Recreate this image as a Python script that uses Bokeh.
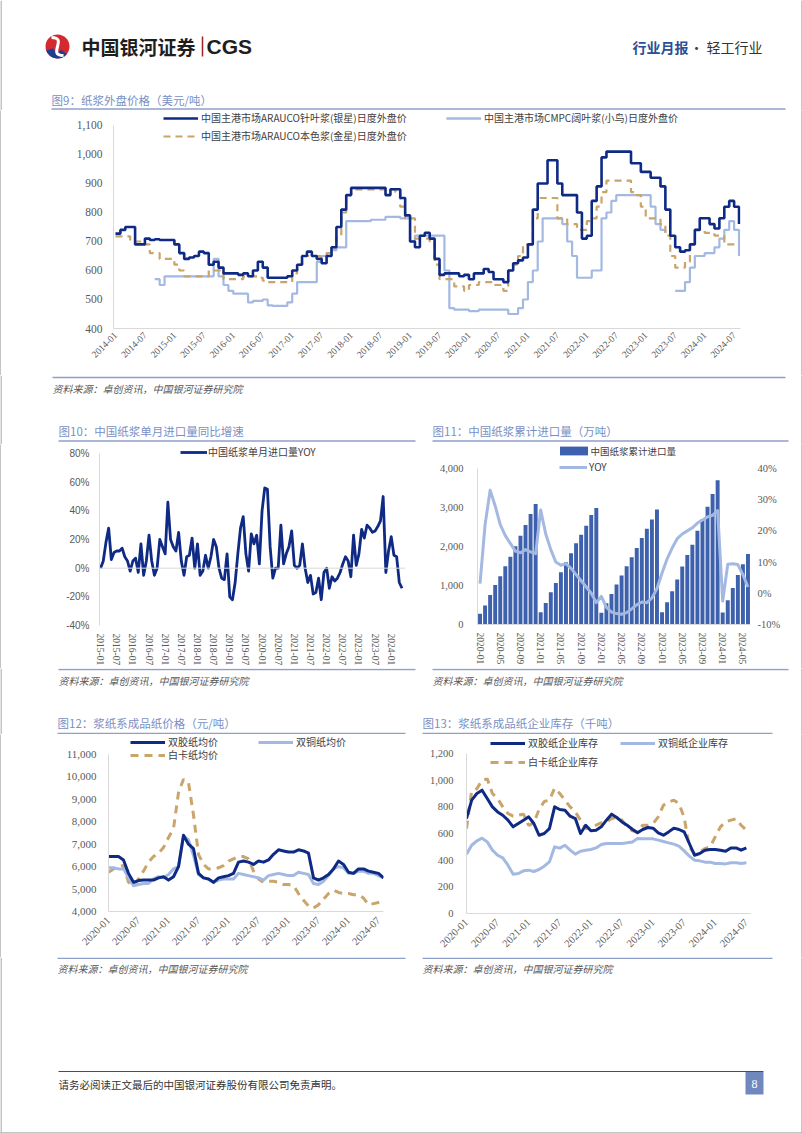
import math
from bokeh.plotting import figure
from bokeh.layouts import column, row
from bokeh.models import (Range1d, FixedTicker, NumeralTickFormatter, LinearAxis,
                          Legend, LegendItem, Span)
from bokeh.core.properties import value
from bokeh.embed import file_html
from bokeh.resources import INLINE

nan = float("nan")

# ---------------- data ----------------
# Fig 9: monthly, 2014-01 .. 2024-08 (USD/t)
c9_needle = [727, 740, 750, 750, 690, 690, 710, 705, 708, 705, 705, 705,
             690, 660, 640, 645, 650, 665, 660, 620, 630, 610, 590, 590,
             590, 585, 590, 580, 600, 630, 610, 575, 575, 575, 575, 580,
             600, 620, 650, 665, 650, 640, 625, 650, 680, 750, 810, 860,
             885, 885, 885, 885, 885, 885, 885, 860, 880, 880, 850, 790,
             700, 680, 720, 730, 710, 640, 585, 590, 590, 590, 580, 585,
             570, 590, 590, 605, 595, 570, 570, 560, 600, 625, 635, 645,
             690, 810, 900, 900, 980, 980, 900, 860, 860, 860, 800, 710,
             720, 840, 890, 990, 1010, 1010, 1010, 1010, 1010, 970, 970, 940,
             940, 920, 920, 890, 810, 720, 680, 665, 670, 690, 740, 780,
             780, 760, 745, 780, 820, 840, 820, 760]
c9_hardwood = [nan, nan, nan, nan, nan, nan, nan, nan, 570, 550, 580, 580,
               580, 580, 580, 580, 580, 580, 580, 580, 640, 580, 550, 530,
               520, 520, 520, 490, 495, 495, 500, 480, 478, 478, 478, 490,
               520, 560, 560, 560, 560, 630, 650, 650, 670, 680, 680, 770,
               770, 770, 770, 770, 775, 775, 775, 785, 785, 785, 780, 780,
               700, 720, 720, 720, 720, 720, 720, 600, 470, 465, 465, 465,
               460, 460, 465, 465, 465, 465, 465, 465, 450, 450, 470, 500,
               560, 600, 700, 780, 780, 780, 780, 760, 700, 650, 575, 575,
               575, 600, 600, 780, 800, 840, 860, 860, 860, 860, 860, 860,
               860, 820, 760, 740, 730, nan, 530, 530, 560, 610, 650, 650,
               660, 660, 680, 710, 740, 770, 740, 650]
c9_unbleached = [718, 718, 718, 700, 700, 700, 690, 660, 660, 640, 640, 640,
                 620, 600, 580, 580, 580, 580, 580, 600, 600, 600, 570, 570,
                 570, 570, 580, 580, 580, 575, 565, 560, 560, 560, 560, 560,
                 590, 620, 650, 650, 650, 650, 650, 660, 680, 720, 800, 860,
                 880, 880, 880, 880, 880, 880, 880, 880, 880, 870, 820, 780,
                 780, 710, 710, 710, 700, 620, 570, 570, 570, 545, 545, 530,
                 550, 550, 560, 560, 560, 550, 550, 530, 600, 620, 650, 690,
                 690, 780, 850, 850, 850, 850, 780, 780, 760, 760, 740, 740,
                 770, 780, 820, 870, 910, 910, 910, 910, 910, 870, 860, 820,
                 780, 780, 780, 760, 720, 650, 610, 610, 630, 690, 740, 740,
                 730, 730, 720, 720, 690, 690, 690, 690]
c9_tick_labels = ["2014-01", "2014-07", "2015-01", "2015-07", "2016-01", "2016-07",
                  "2017-01", "2017-07", "2018-01", "2018-07", "2019-01", "2019-07",
                  "2020-01", "2020-07", "2021-01", "2021-07", "2022-01", "2022-07",
                  "2023-01", "2023-07", "2024-01", "2024-07"]
c9_y_ticks = [400, 500, 600, 700, 800, 900, 1000, 1100]

# Fig 10: monthly YoY (%), 2015-01 .. 2024-05
c10_yoy = [0, 5, 18, 28, 6, 11, 12, 12, 14, 8, 5, -2,
           5, 7, -3, 17, -5, 5, 23, 5, -5, 0, 20, 15,
           10, 46, 20, 15, 12, 25, 5, -5, 8, 9, 21, 0,
           17, -5, -2, 9, 0, 8, 20, 15, 0, -7, -8, 10,
           -20, -22, -10, 10, 28, 36, 10, -2, 24, 17, 23, 3,
           40, 56, 55, 15, -7, 0, 0, 30, 3, 10, 15, 26,
           2, 0, 2, 17, 0, -10, -5, -18, -17, -7, -22, -3,
           0, -14, -6, -9, -7, -3, 3, 8, 5, -6, 23, 2,
           10, 27, 21, 30, 28, 25, 26, 29, 33, 50, -3, 12,
           22, 9, 8, -10, -14]
c10_tick_labels = ["2015-01", "2015-07", "2016-01", "2016-07", "2017-01", "2017-07",
                   "2018-01", "2018-07", "2019-01", "2019-07", "2020-01", "2020-07",
                   "2021-01", "2021-07", "2022-01", "2022-07", "2023-01", "2023-07",
                   "2024-01"]
c10_y_ticks = [-40, -20, 0, 20, 40, 60, 80]

# Fig 11: cumulative imports (10k t) and YoY (%), 2020-01 .. 2024-06
c11_cum = [273, 486, 759, 1015, 1237, 1493, 1740, 2004, 2277, 2550, 2831, 3087,
           316, 554, 827, 1066, 1339, 1595, 1825, 2081, 2303, 2533, 2806, 2985,
           299, 546, 785, 1023, 1254, 1493, 1723, 1962, 2218, 2456, 2695, 2951,
           316, 571, 853, 1151, 1484, 1783, 2047, 2405, 2704, 3019, 3343, 3701,
           307, 623, 938, 1271, 1544, 1808]
c11_yoy = [3.1, 22, 33, 28, 22, 18.5, 16, 13.5, 13, 14, 13.3, 12.7,
           26.7, 19, 14, 10, 9, 9.5, 8, 6, 4, 2, 0, -3,
           -1, -4.5, -6, -6.5, -6.7, -6.2, -5, -3.7, -2.8, -3, -1.5, 1.5,
           6.5, 11, 14.5, 17.5, 19, 20, 21, 22.5, 23.5, 24.5, 25, 26.5,
           -2.5, 9.3, 9.5, 9.2, 6, 2]
c11_tick_labels = ["2020-01", "2020-05", "2020-09", "2021-01", "2021-05", "2021-09",
                   "2022-01", "2022-05", "2022-09", "2023-01", "2023-05", "2023-09",
                   "2024-01", "2024-05"]
c11_left_ticks = [0, 1000, 2000, 3000, 4000]
c11_right_ticks = [-10, 0, 10, 20, 30, 40]

# Fig 12: paper prices (CNY/t), 2020-01 .. 2024-08
c12_offset = [6450, 6450, 6450, 6300, 5700, 5300, 5380, 5400, 5400, 5400, 5500, 5550,
              5400, 5550, 6000, 7400, 7000, 6800, 5700, 5500, 5450, 5300, 5500, 5550,
              5600, 5700, 6200, 6250, 6200, 6100, 6250, 6200, 6300, 6550, 6750, 6700,
              6650, 6650, 6750, 6700, 6600, 5500, 5400, 5500, 5650, 5900, 6250, 6100,
              5750, 5700, 5900, 5900, 5800, 5750, 5700, 5500]
c12_coated = [5950, 5950, 5900, 5900, 5500, 5150, 5200, 5250, 5250, 5450, 5550, 5500,
              5650, 5900, 6000, 7350, 7200, 6500, 5650, 5500, 5450, 5300, 5400, 5450,
              5450, 5450, 5700, 5650, 5600, 5550, 5500, 5400, 5600, 5650, 5700, 5650,
              5600, 5600, 5750, 5700, 5650, 5250, 5200, 5350, 5600, 5900, 6000, 5950,
              5700, 5700, 5800, 5800, 5700, 5700, 5600, 5500]
c12_ivory = [5750, 5900, 6000, 6050, 5300, 5150, 5450, 5800, 6200, 6450, 6600, 6850,
             7300, 7700, 9300, 9900, 9750, 8300, 6550, 6100, 5900, 5900, 5950, 6050,
             6250, 6350, 6450, 6450, 6350, 5800, 5450, 5300, 5350, 5350, 5300, 5200,
             5200, 5150, 4800, 4500, 4250, 4150, 4300, 4550, 4800, 4950, 4850, 4800,
             4800, 4750, 4750, 4600, 4300, 4350, 4400, 4450]
c12_tick_labels = ["2020-01", "2020-07", "2021-01", "2021-07", "2022-01", "2022-07",
                   "2023-01", "2023-07", "2024-01", "2024-07"]
c12_y_ticks = [4000, 5000, 6000, 7000, 8000, 9000, 10000, 11000]

# Fig 13: paper inventories (kt), 2020-01 .. 2024-07
c13_offset = [712, 850, 900, 925, 862, 800, 762, 737, 700, 650, 675, 700,
              725, 675, 587, 600, 637, 800, 780, 775, 730, 712, 600, 662,
              620, 625, 650, 700, 745, 720, 687, 662, 632, 605, 630, 645,
              640, 605, 587, 612, 640, 630, 612, 525, 437, 450, 475, 480,
              480, 475, 467, 492, 492, 475, 492]
c13_coated = [445, 512, 545, 565, 537, 475, 437, 417, 362, 295, 300, 320,
              325, 315, 330, 355, 387, 500, 490, 512, 475, 445, 467, 475,
              480, 492, 517, 525, 525, 525, 525, 530, 537, 562, 560, 560,
              560, 550, 540, 530, 520, 505, 470, 430, 400, 395, 385, 385,
              375, 375, 372, 380, 380, 375, 380]
c13_ivory = [637, 920, 935, 1000, 1010, 900, 862, 800, 750, 730, 737, 745,
             660, 680, 780, 840, 850, 940, 900, 850, 800, 762, 700, 637,
             645, 662, 680, 687, 712, 720, 700, 650, 620, 612, 662, 662,
             675, 725, 812, 837, 850, 825, 720, 500, 450, 462, 487, 500,
             575, 650, 687, 700, 710, 662, 625]
c13_tick_labels = c12_tick_labels
c13_y_ticks = [0, 200, 400, 600, 800, 1000, 1200]

# ---------------- styles ----------------
CJK = "Noto Sans CJK SC"
SERIF = "Liberation Serif"
SANS = "Liberation Sans"
NAVY = "#0f2a84"
LIGHT = "#a3b9e2"
TAN = "#c9a46b"
BAR = "#3e61ad"
TITLE_C = "#7a90c2"
RULE_C = "#8e9fca"
TICK_C = "#595959"
AXIS_C = "#d9d9d9"
SRC_C = "#595959"
EDGE_C = "#8a8a8a"


def deco(w, h):
    p = figure(width=w, height=h, x_range=Range1d(0, w), y_range=Range1d(h, 0),
               x_axis_type=None, y_axis_type=None, output_backend="svg",
               toolbar_location=None, min_border=0, min_border_left=0,
               min_border_right=0, min_border_top=0, min_border_bottom=0,
               frame_align=False)
    p.outline_line_color = None
    # page edges
    p.segment(x0=[0.5, w - 0.5], y0=[0, 0], x1=[0.5, w - 0.5], y1=[h, h],
              line_color=EDGE_C, line_width=1)
    return p


def edge(h):
    p = figure(width=1, height=h, x_axis_type=None, y_axis_type=None,
               output_backend="svg", toolbar_location=None, min_border=0,
               min_border_left=0, min_border_right=0, min_border_top=0,
               min_border_bottom=0, frame_align=False)
    p.outline_line_color = None
    p.background_fill_color = EDGE_C
    p.border_fill_color = EDGE_C
    return p


def txt(p, x, y, s, size, color, font=CJK, align="left", style="normal"):
    p.text(x=[x], y=[y], text=[s], text_font=value(font), text_font_size=f"{size}px",
           text_color=color, text_align=align, text_baseline="middle",
           text_font_style=style)


def hline(p, x0, x1, y, color=RULE_C, width=1.5):
    p.segment(x0=[x0], y0=[y], x1=[x1], y1=[y], line_color=color, line_width=width)


def chart(w, h, l, r, t, b, xr, yr):
    p = figure(width=w, height=h, x_range=xr, y_range=yr, output_backend="svg",
               toolbar_location=None, min_border_left=l, min_border_right=r,
               min_border_top=t, min_border_bottom=b, frame_align=False)
    p.grid.visible = False
    p.outline_line_color = None
    p.background_fill_color = "white"
    p.border_fill_color = "white"
    return p


def style_axis(ax, font, size, standoff, line=True):
    ax.axis_line_color = AXIS_C if line else None
    ax.axis_line_width = 1
    ax.major_tick_line_color = None
    ax.minor_tick_line_color = None
    ax.major_tick_in = 0
    ax.major_tick_out = 0
    ax.minor_tick_in = 0
    ax.minor_tick_out = 0
    ax.major_label_text_font = font
    ax.major_label_text_font_size = f"{size}px"
    ax.major_label_text_color = TICK_C
    ax.major_label_standoff = standoff


def add_legend(p, renderers, label, gx, gy, fx, fb, gw=35, gh=14, size=10, standoff=3):
    lg = Legend(items=[LegendItem(label=value(label), renderers=renderers)],
                location=(gx - fx, fb - gy - gh / 2), orientation="horizontal",
                margin=0, padding=0, spacing=0, border_line_color=None,
                background_fill_alpha=0, glyph_width=gw, glyph_height=gh,
                label_height=gh, label_standoff=standoff,
                label_text_font=CJK, label_text_font_size=f"{size}px",
                label_text_color="#404040")
    p.add_layout(lg, "center")


def step_runs(p, xs, ys, **kw):
    rends, cur = [], []
    for x, y in zip(xs, ys):
        if y == y:
            cur.append((x, y))
        elif cur:
            rends.append(p.step([c[0] for c in cur], [c[1] for c in cur], mode="after", **kw))
            cur = []
    if cur:
        rends.append(p.step([c[0] for c in cur], [c[1] for c in cur], mode="after", **kw))
    return rends


def date_axis(ax, labels, step, orient, size, standoff, line=True):
    ticks = [step * i for i in range(len(labels))]
    ax.ticker = FixedTicker(ticks=ticks)
    ax.major_label_overrides = {t: lab for t, lab in zip(ticks, labels)}
    ax.major_label_orientation = orient
    style_axis(ax, SERIF, size, standoff, line)


def value_axis(ax, ticks, font, size, standoff, fmt=None, pct=False, line=True):
    ax.ticker = FixedTicker(ticks=ticks)
    ax.bounds = (min(ticks), max(ticks))
    if fmt:
        ax.formatter = NumeralTickFormatter(format=fmt)
    if pct:
        ax.major_label_overrides = {t: f"{t}%" for t in ticks}
    style_axis(ax, font, size, standoff, line)


# ---------------- header band (page y 0-110) ----------------
hdr = deco(802, 110)
hdr.circle(x=[57], y=[46], radius=12, fill_color="#d42a2f", line_color=None)
hdr.annular_wedge(x=[57], y=[46], inner_radius=5, outer_radius=12,
                  start_angle=math.radians(200), end_angle=math.radians(320),
                  fill_color="#1c3f94", line_color=None)
hdr.bezier(x0=[51], y0=[37], x1=[63], y1=[55], cx0=[68], cy0=[37], cx1=[46], cy1=[55],
           line_color="white", line_width=3)
txt(hdr, 81, 46, "中国银河证券", 19, "#1e1e1e", font=CJK, style="bold")
hdr.segment(x0=[202], y0=[36], x1=[202], y1=[56], line_color="#a0202e", line_width=1.5)
txt(hdr, 206, 46, "CGS", 21, "#1e1e1e", font=SANS, style="bold")
txt(hdr, 688, 46, "行业月报", 14, "#2c4f96", align="right", style="bold")
txt(hdr, 696, 46, "·", 14, "#404040", align="center")
txt(hdr, 762, 46, "轻工行业", 14, "#333333", align="right")
txt(hdr, 51, 99, "图9：纸浆外盘价格（美元/吨）", 11.5, TITLE_C)
hline(hdr, 51, 785, 108.5)

# ---------------- Fig 9 (page x 1-801, y 110-375; frame 110-328) ----------------
m9 = list(range(len(c9_needle)))
p9 = chart(800, 265, 112, 61, 0, 47, Range1d(-0.4, 127.3), Range1d(400, 1151.7))
r9_hard = step_runs(p9, m9, c9_hardwood, line_color=LIGHT, line_width=2.2)
r9_unb = p9.step(m9, c9_unbleached, mode="after", line_color=TAN, line_width=2.2,
                 line_dash="7 5")
r9_needle = p9.step(m9, c9_needle, mode="after", line_color=NAVY, line_width=2.6)
date_axis(p9.xaxis[0], c9_tick_labels, 6, math.pi / 4, 9.5, 5)
value_axis(p9.yaxis[0], c9_y_ticks, SERIF, 11.5, 11, fmt="0,0")
add_legend(p9, [r9_needle], "中国主港市场ARAUCO针叶浆(银星)日度外盘价", 163, 118, 113, 328)
add_legend(p9, r9_hard, "中国主港市场CMPC阔叶浆(小鸟)日度外盘价", 446, 118, 113, 328)
add_legend(p9, [r9_unb], "中国主港市场ARAUCO本色浆(金星)日度外盘价", 163, 136, 113, 328)

# ---------------- band C (page y 375-444) ----------------
bc = deco(802, 69)
hline(bc, 52, 785, 2)
txt(bc, 52, 13, "资料来源：卓创资讯，中国银河证券研究院", 10, SRC_C, style="italic")
txt(bc, 58, 55, "图10：中国纸浆单月进口量同比增速", 11.5, TITLE_C)
txt(bc, 432, 55, "图11：中国纸浆累计进口量（万吨）", 11.5, TITLE_C)
hline(bc, 58, 415, 65.5)
hline(bc, 432, 788, 65.5)

# ---------------- Fig 10 (page x 1-420, y 444-668; frame 444-625) ----------------
m10 = list(range(len(c10_yoy)))
p10 = chart(419, 224, 98, 15, 0, 43, Range1d(-0.4, 113.3), Range1d(-40, 86.3))
p10.add_layout(Span(location=0, dimension="width", line_color=AXIS_C, line_width=1))
r10 = p10.line(m10, c10_yoy, line_color=NAVY, line_width=2.8, line_join="round")
date_axis(p10.xaxis[0], c10_tick_labels, 6, "vertical", 9.5, 8, line=False)
value_axis(p10.yaxis[0], c10_y_ticks, SANS, 10, 10, pct=True)
add_legend(p10, [r10], "中国纸浆单月进口量YOY", 180, 452, 99, 625, gw=27, standoff=1)

# ---------------- Fig 11 (page x 420-801, y 444-668; frame 444-624) ----------------
m11 = list(range(len(c11_cum)))
p11 = chart(381, 224, 57, 51, 0, 44, Range1d(-0.5, 53.5), Range1d(0, 4615.4))
p11.extra_y_ranges = {"yoy": Range1d(-10, 47.69)}
r11_bar = p11.vbar(x=m11, top=c11_cum, width=0.78, fill_color=BAR, line_color=None)
r11_yoy = p11.line(m11, c11_yoy, y_range_name="yoy", line_color=LIGHT, line_width=3,
                   line_join="round")
date_axis(p11.xaxis[0], c11_tick_labels, 4, "vertical", 9.5, 8)
value_axis(p11.yaxis[0], c11_left_ticks, SERIF, 10.5, 14, fmt="0,0")
ax11r = LinearAxis(y_range_name="yoy")
value_axis(ax11r, c11_right_ticks, SERIF, 10.5, 7, pct=True, line=False)
p11.add_layout(ax11r, "right")
add_legend(p11, [r11_bar], "中国纸浆累计进口量", 555.5, 452, 477, 624, gw=35, gh=11,
           size=9.5, standoff=0)
add_legend(p11, [r11_yoy], "YOY", 559, 467, 477, 624, gw=28, gh=14, size=10, standoff=2)

# ---------------- band E (page y 668-734) ----------------
be = deco(802, 66)
hline(be, 58, 415, 1)
hline(be, 432, 788, 1)
txt(be, 58, 12, "资料来源：卓创资讯，中国银河证券研究院", 10, SRC_C, style="italic")
txt(be, 432, 12, "资料来源：卓创资讯，中国银河证券研究院", 10, SRC_C, style="italic")
txt(be, 57, 54, "图12：浆纸系成品纸价格（元/吨）", 11.5, TITLE_C)
txt(be, 422, 54, "图13：浆纸系成品纸企业库存（千吨）", 11.5, TITLE_C)
hline(be, 57, 405, 65)
hline(be, 422, 772, 65)

# ---------------- Fig 12 (page x 1-410, y 734-957; frame 734-911) ----------------
m12 = list(range(len(c12_offset)))
p12 = chart(409, 223, 107, 27, 0, 46, Range1d(0, 55), Range1d(4000, 11891.7))
r12_iv = p12.line(m12, c12_ivory, line_color=TAN, line_width=3, line_dash="8 6")
r12_co = p12.line(m12, c12_coated, line_color=LIGHT, line_width=3, line_join="round")
r12_of = p12.line(m12, c12_offset, line_color=NAVY, line_width=3, line_join="round")
date_axis(p12.xaxis[0], c12_tick_labels, 6, math.pi / 4, 10.5, 7)
value_axis(p12.yaxis[0], c12_y_ticks, SERIF, 11, 12, fmt="0,0")
add_legend(p12, [r12_of], "双胶纸均价", 130, 742, 108, 911)
add_legend(p12, [r12_co], "双铜纸均价", 258, 742, 108, 911)
add_legend(p12, [r12_iv], "白卡纸均价", 130, 755, 108, 911)

# ---------------- Fig 13 (page x 410-801, y 734-957; frame 734-913) ----------------
m13 = list(range(len(c13_offset)))
p13 = chart(391, 223, 56, 51, 0, 44, Range1d(0, 54.8), Range1d(0, 1342.5))
r13_iv = p13.line(m13, c13_ivory, line_color=TAN, line_width=3, line_dash="8 6")
r13_co = p13.line(m13, c13_coated, line_color=LIGHT, line_width=3, line_join="round")
r13_of = p13.line(m13, c13_offset, line_color=NAVY, line_width=3, line_join="round")
date_axis(p13.xaxis[0], c13_tick_labels, 6, math.pi / 4, 10.5, 7)
value_axis(p13.yaxis[0], c13_y_ticks, SERIF, 10.5, 13, fmt="0,0")
add_legend(p13, [r13_of], "双胶纸企业库存", 490, 743, 466, 913)
add_legend(p13, [r13_co], "双铜纸企业库存", 620, 743, 466, 913)
add_legend(p13, [r13_iv], "白卡纸企业库存", 490, 762, 466, 913)

# ---------------- band G (page y 957-1133) ----------------
bg = deco(802, 176)
hline(bg, 57, 405, 0.75)
hline(bg, 422, 772, 0.75)
txt(bg, 57, 11, "资料来源：卓创资讯，中国银河证券研究院", 10, SRC_C, style="italic")
txt(bg, 422, 11, "资料来源：卓创资讯，中国银河证券研究院", 10, SRC_C, style="italic")
hline(bg, 58, 763, 114, color="#4d4d4d", width=1.2)
txt(bg, 58, 127, "请务必阅读正文最后的中国银河证券股份有限公司免责声明。", 10.5, "#333333")
bg.quad(left=[745], right=[763], top=[114.5], bottom=[137], fill_color="#6f89bf",
        line_color=None)
txt(bg, 754, 126, "8", 12, "white", font=SERIF, align="center")
hline(bg, 0, 802, 175.5, color=EDGE_C, width=1)

page = column(hdr,
              row(edge(265), p9, edge(265)),
              bc,
              row(edge(224), p10, p11, edge(224)),
              be,
              row(edge(223), p12, p13, edge(223)),
              bg)

open("out.html", "w").write(file_html(page, INLINE))
